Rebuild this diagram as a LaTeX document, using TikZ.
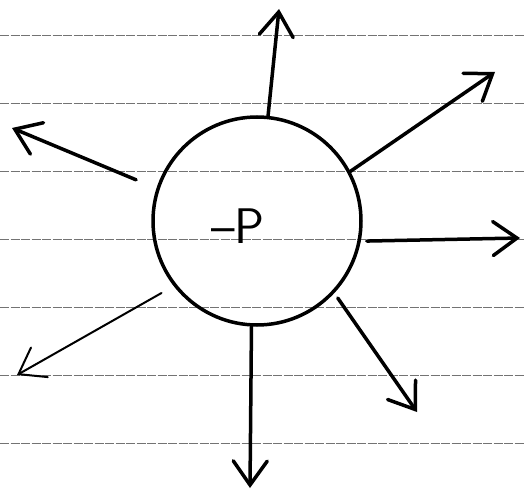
\documentclass[tikz,border=0pt]{standalone}
\usetikzlibrary{arrows.meta}
\begin{document}
\begin{tikzpicture}[x=1pt,y=-1pt,
  ray/.style={line width=3.5pt, line cap=round, -{Straight Barb[length=24pt,width=34pt,line cap=round]}},
  rule/.style={black!55, line width=0.9pt, dash pattern=on 9pt off 1.5pt}]
\useasboundingbox (0,0) rectangle (525,495);
\fill[white] (0,0) rectangle (525,495);

\foreach \y in {35,103,171,239,307,375,443}
  \draw[rule] (0,\y) -- (525,\y);

\node[circle, draw, line width=3.5pt, minimum size=208pt, inner sep=0pt] (ball) at (257,221) {};
\node[font=\fontsize{50}{50}\selectfont\sffamily] (charge) at (238,226) {\textendash P};

\coordinate (tN) at (279,9);
\coordinate (tNE) at (495,72);
\coordinate (tNW) at (12,128);
\coordinate (tE) at (520,238);
\coordinate (tSE) at (417,412);
\coordinate (tS) at (250,488);
\coordinate (tSW) at (17,375);

\draw[ray] (ball.84) -- (tN);
\draw[ray] (ball.28) -- (tNE);
\draw[ray, shorten <=22pt] (ball.162) -- (tNW);
\draw[ray, shorten <=6pt] (ball.-11) -- (tE);
\draw[ray, shorten <=6pt] (ball.-43) -- (tSE);
\draw[ray] (ball.-93) -- (tS);
\draw[ray, line width=2pt, shorten <=14pt] (ball.218) -- (tSW);
\end{tikzpicture}
\end{document}
